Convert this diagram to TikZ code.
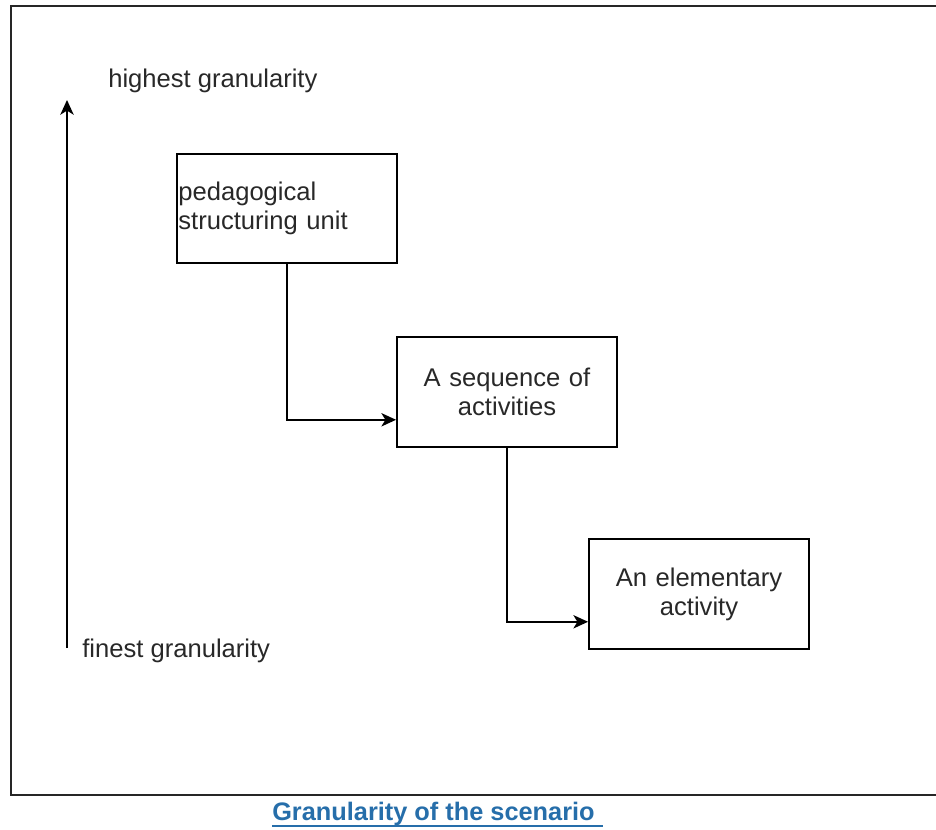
\documentclass[tikz,border=0pt]{standalone}
\usepackage{fontspec}
\setmainfont{Liberation Sans}
\usetikzlibrary{arrows.meta,calc}

\definecolor{captionblue}{RGB}{38,110,170}
\definecolor{textgray}{RGB}{40,40,40}

\tikzset{
  levelbox/.style={draw, line width=1.4pt, minimum width=165pt, minimum height=82pt,
    text width=163pt, inner xsep=1pt, align=center, text=textgray,
    font=\fontsize{19.2}{21.8}\selectfont},
  linkarrow/.style={line width=1.3pt, -{Stealth[length=11pt,width=10pt,inset=3pt]}},
  axislabel/.style={anchor=west, inner sep=0pt, text=textgray,
    font=\fontsize{19.2}{21.8}\selectfont}
}

\begin{document}
\begin{tikzpicture}[x=0.75pt,y=-0.75pt]
\useasboundingbox (0,0) rectangle (936,830);

% cadre
\draw[line width=2pt, black!85] (936,6) -- (11,6) -- (11,795) -- (936,795);

% axe de granularite
\coordinate (finest) at (67,648);
\coordinate (highest) at (67,100);
\draw[linkarrow] (finest) -- (highest);
\node[axislabel] (hilabel) at (108,81) {highest granularity};
\node[axislabel] (lolabel) at (82,651) {finest granularity};

% les trois niveaux
\node[levelbox, align=left] (unit) at (287,208.5) {pedagogical\\structuring unit};
\node[levelbox] (sequence) at (507,392) {A sequence of\\activities};
\node[levelbox] (activity) at (699,594) {An elementary\\activity};

% liens
\draw[linkarrow] (unit.south) |- ($(sequence.south west)!0.25!(sequence.north west)$);
\draw[linkarrow] (sequence.south) |- ($(activity.south west)!0.25!(activity.north west)$);

% legende
\node[inner sep=0pt, anchor=base west, text=captionblue,
  font=\fontsize{19}{20}\selectfont\bfseries] (caption) at (272,820) {Granularity of the scenario};
\draw[captionblue, line width=1.2pt] (caption.base west) ++(0,6) coordinate (ulstart)
  -- (ulstart -| 603,0);
\end{tikzpicture}
\end{document}
